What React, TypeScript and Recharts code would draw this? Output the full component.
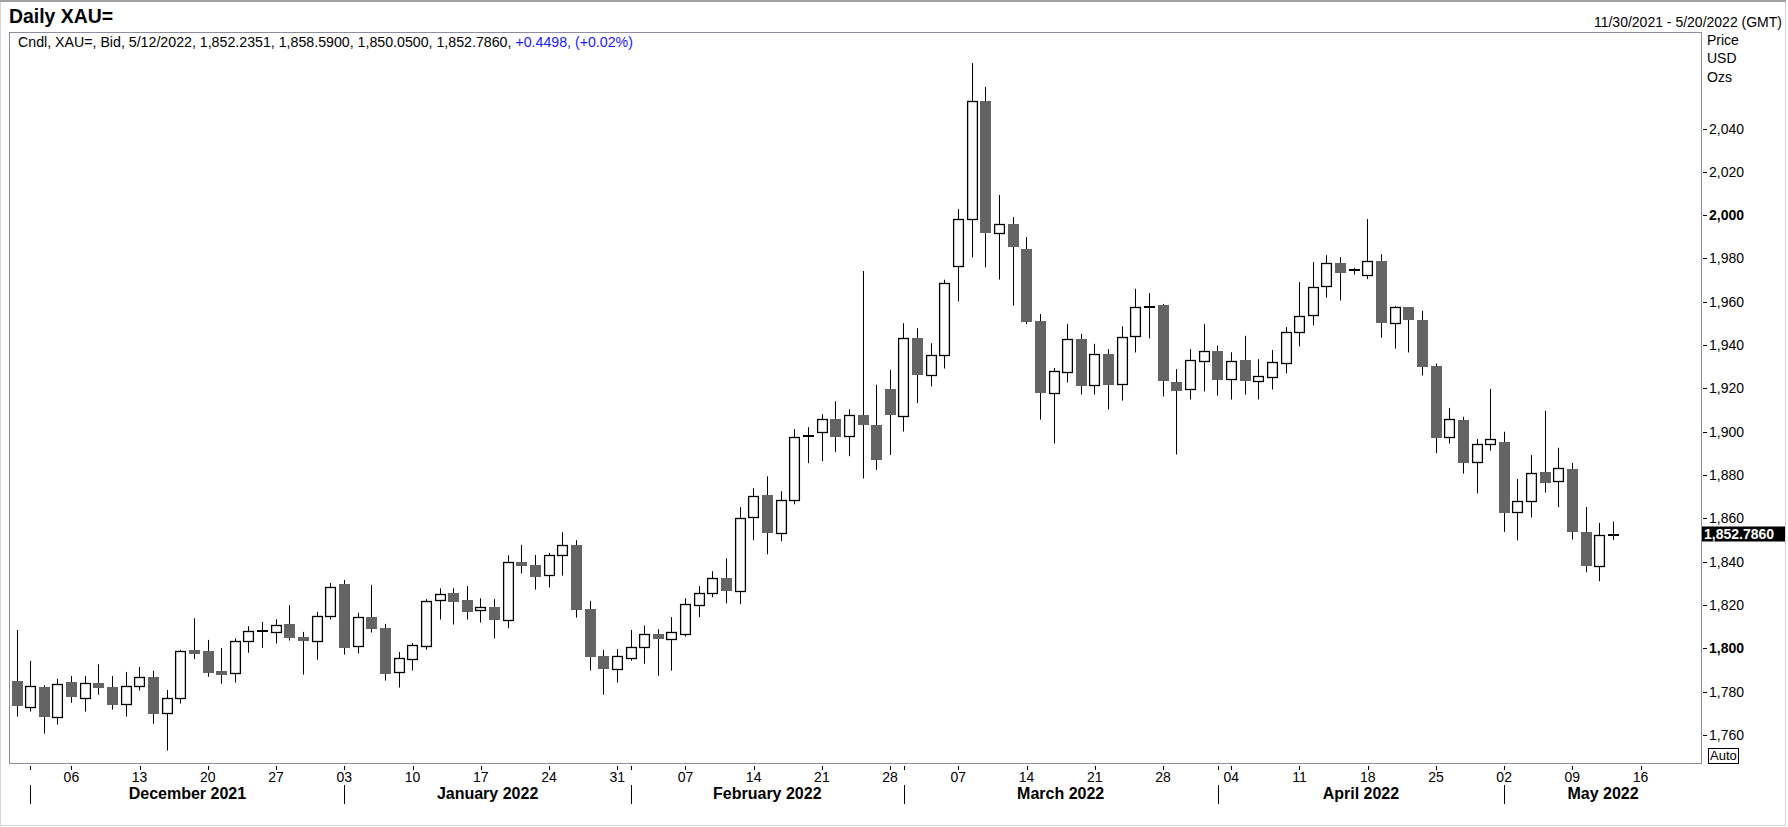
import { Bar, ComposedChart, ReferenceLine, XAxis, YAxis } from "recharts";

// trading days shown on the axis (Nov 30 2021 .. May 20 2022)
const dates = [
  "2021-11-30",
  "2021-12-01", "2021-12-02", "2021-12-03",
  "2021-12-06", "2021-12-07", "2021-12-08", "2021-12-09", "2021-12-10",
  "2021-12-13", "2021-12-14", "2021-12-15", "2021-12-16", "2021-12-17",
  "2021-12-20", "2021-12-21", "2021-12-22", "2021-12-23", "2021-12-24",
  "2021-12-27", "2021-12-28", "2021-12-29", "2021-12-30", "2021-12-31",
  "2022-01-03", "2022-01-04", "2022-01-05", "2022-01-06", "2022-01-07",
  "2022-01-10", "2022-01-11", "2022-01-12", "2022-01-13", "2022-01-14",
  "2022-01-17", "2022-01-18", "2022-01-19", "2022-01-20", "2022-01-21",
  "2022-01-24", "2022-01-25", "2022-01-26", "2022-01-27", "2022-01-28",
  "2022-01-31", "2022-02-01", "2022-02-02", "2022-02-03", "2022-02-04",
  "2022-02-07", "2022-02-08", "2022-02-09", "2022-02-10", "2022-02-11",
  "2022-02-14", "2022-02-15", "2022-02-16", "2022-02-17", "2022-02-18",
  "2022-02-21", "2022-02-22", "2022-02-23", "2022-02-24", "2022-02-25",
  "2022-02-28", "2022-03-01", "2022-03-02", "2022-03-03", "2022-03-04",
  "2022-03-07", "2022-03-08", "2022-03-09", "2022-03-10", "2022-03-11",
  "2022-03-14", "2022-03-15", "2022-03-16", "2022-03-17", "2022-03-18",
  "2022-03-21", "2022-03-22", "2022-03-23", "2022-03-24", "2022-03-25",
  "2022-03-28", "2022-03-29", "2022-03-30", "2022-03-31", "2022-04-01",
  "2022-04-04", "2022-04-05", "2022-04-06", "2022-04-07", "2022-04-08",
  "2022-04-11", "2022-04-12", "2022-04-13", "2022-04-14", "2022-04-15",
  "2022-04-18", "2022-04-19", "2022-04-20", "2022-04-21", "2022-04-22",
  "2022-04-25", "2022-04-26", "2022-04-27", "2022-04-28", "2022-04-29",
  "2022-05-02", "2022-05-03", "2022-05-04", "2022-05-05", "2022-05-06",
  "2022-05-09", "2022-05-10", "2022-05-11", "2022-05-12", "2022-05-13",
  "2022-05-16", "2022-05-17", "2022-05-18", "2022-05-19", "2022-05-20",
];

const opens = [
  1784.9, 1772.8, 1782.2, 1768.2, 1784.5, 1776.9, 1784.0, 1782.2, 1774.2, 1782.5,
  1786.8, 1770.0, 1776.9, 1799.3, 1798.8, 1789.6, 1788.5, 1803.3, 1808.0, 1807.4,
  1811.3, 1805.3, 1803.3, 1814.8, 1829.7, 1800.9, 1814.4, 1809.4, 1788.9, 1794.9,
  1800.9, 1822.2, 1825.6, 1822.4, 1817.6, 1819.1, 1813.0, 1839.9, 1838.5, 1833.8,
  1843.0, 1847.8, 1818.0, 1796.5, 1790.3, 1795.4, 1800.5, 1806.5, 1804.2, 1806.5,
  1819.9, 1825.4, 1832.4, 1826.4, 1860.5, 1870.7, 1853.1, 1868.4, 1897.8, 1899.8,
  1905.8, 1897.9, 1907.8, 1903.2, 1919.8, 1907.5, 1943.2, 1926.1, 1935.4, 1976.3,
  1998.2, 2052.8, 1991.7, 1996.0, 1984.5, 1951.2, 1917.8, 1927.5, 1942.8, 1921.5,
  1936.0, 1922.0, 1944.3, 1957.5, 1958.6, 1922.9, 1919.6, 1932.6, 1937.4, 1924.3,
  1933.2, 1923.4, 1925.2, 1931.7, 1946.0, 1953.8, 1967.2, 1977.8, 1974.4, 1972.3,
  1978.8, 1950.1, 1957.5, 1951.7, 1930.4, 1897.5, 1905.5, 1886.0, 1894.3, 1895.3,
  1862.8, 1867.9, 1881.5, 1877.2, 1882.9, 1853.8, 1837.8, 1852.2351,
];

const highs = [
  1808.5, 1794.2, 1782.9, 1785.9, 1787.2, 1787.2, 1792.6, 1787.2, 1789.1, 1791.4,
  1789.6, 1780.8, 1799.3, 1813.9, 1803.9, 1800.2, 1804.6, 1810.2, 1812.2, 1813.4,
  1820.0, 1807.6, 1816.8, 1830.2, 1831.6, 1816.4, 1829.3, 1811.3, 1798.3, 1802.5,
  1822.7, 1827.7, 1827.7, 1828.8, 1823.1, 1822.7, 1843.0, 1847.8, 1843.1, 1844.1,
  1853.6, 1849.9, 1821.9, 1799.3, 1799.7, 1808.5, 1810.6, 1808.8, 1814.4, 1823.1,
  1828.8, 1835.6, 1841.6, 1865.2, 1873.9, 1879.4, 1872.5, 1901.2, 1902.1, 1908.1,
  1914.1, 1910.4, 1974.2, 1921.7, 1928.6, 1950.1, 1947.8, 1940.9, 1970.2, 2002.8,
  2070.2, 2059.2, 2009.3, 1999.1, 1989.9, 1954.3, 1929.4, 1949.8, 1945.2, 1940.6,
  1938.1, 1948.6, 1966.0, 1964.0, 1959.0, 1928.9, 1938.1, 1949.7, 1939.7, 1936.7,
  1944.3, 1933.5, 1937.7, 1948.3, 1969.1, 1978.3, 1981.5, 1980.6, 1975.7, 1998.2,
  1982.0, 1958.0, 1957.6, 1955.8, 1931.5, 1911.0, 1906.9, 1896.6, 1919.8, 1900.0,
  1878.2, 1889.2, 1909.7, 1892.6, 1885.6, 1865.3, 1857.9, 1858.59,
];

const lows = [
  1768.5, 1770.8, 1760.6, 1764.8, 1774.9, 1770.8, 1778.6, 1771.7, 1768.5, 1780.5,
  1765.2, 1752.8, 1774.5, 1795.0, 1786.9, 1783.7, 1784.2, 1798.0, 1800.2, 1802.2,
  1803.6, 1787.9, 1794.8, 1813.3, 1797.1, 1797.6, 1807.3, 1785.1, 1781.9, 1789.7,
  1799.4, 1813.3, 1811.0, 1813.3, 1811.9, 1804.5, 1809.3, 1834.5, 1827.1, 1828.1,
  1833.6, 1814.2, 1789.7, 1778.6, 1784.2, 1794.3, 1792.9, 1787.4, 1789.7, 1805.5,
  1814.4, 1823.6, 1820.8, 1820.4, 1849.9, 1843.4, 1849.4, 1866.5, 1885.5, 1886.4,
  1890.6, 1888.7, 1878.4, 1882.4, 1889.3, 1900.1, 1913.2, 1920.9, 1929.2, 1960.2,
  1980.5, 1975.9, 1970.3, 1958.3, 1949.7, 1905.6, 1894.6, 1922.7, 1917.2, 1917.2,
  1910.3, 1914.4, 1936.6, 1943.1, 1916.3, 1889.5, 1914.9, 1918.6, 1916.7, 1914.9,
  1917.2, 1914.9, 1919.5, 1926.9, 1939.4, 1949.1, 1962.0, 1960.6, 1972.6, 1970.5,
  1943.5, 1938.4, 1936.6, 1926.0, 1890.1, 1894.6, 1880.7, 1871.5, 1891.3, 1853.8,
  1849.8, 1860.4, 1871.9, 1865.2, 1850.2, 1835.1, 1831.0, 1850.05,
];

const closes = [
  1773.6, 1782.5, 1768.5, 1783.4, 1777.7, 1783.9, 1781.9, 1774.0, 1782.5, 1786.6,
  1769.9, 1776.9, 1798.6, 1797.6, 1788.8, 1787.9, 1803.3, 1807.9, 1808.1, 1810.6,
  1805.0, 1803.6, 1814.8, 1828.2, 1800.3, 1814.4, 1809.1, 1788.3, 1795.4, 1801.4,
  1821.7, 1825.0, 1821.6, 1817.0, 1819.0, 1813.3, 1839.8, 1838.2, 1833.0, 1843.0,
  1847.6, 1817.9, 1796.2, 1790.6, 1796.3, 1800.5, 1806.5, 1804.2, 1807.4, 1820.4,
  1825.4, 1832.4, 1826.4, 1860.1, 1870.2, 1853.1, 1868.4, 1897.5, 1898.0, 1905.8,
  1897.8, 1907.6, 1903.0, 1887.0, 1907.8, 1943.2, 1926.0, 1935.4, 1968.6, 1998.2,
  2052.7, 1991.6, 1995.9, 1985.1, 1950.9, 1917.7, 1928.0, 1942.8, 1920.9, 1935.8,
  1921.4, 1943.7, 1957.5, 1957.7, 1923.2, 1919.0, 1933.0, 1937.2, 1924.1, 1932.6,
  1923.6, 1925.7, 1932.1, 1946.0, 1953.4, 1966.8, 1977.8, 1973.5, 1974.6, 1978.8,
  1950.0, 1957.5, 1951.4, 1929.7, 1897.3, 1905.8, 1885.8, 1894.3, 1896.6, 1862.7,
  1867.9, 1880.9, 1876.5, 1883.2, 1853.9, 1837.8, 1852.2, 1852.786,
];

const weekTicks = [
  "2021-12-06", "2021-12-13", "2021-12-20", "2021-12-27",
  "2022-01-03", "2022-01-10", "2022-01-17", "2022-01-24", "2022-01-31",
  "2022-02-07", "2022-02-14", "2022-02-21", "2022-02-28",
  "2022-03-07", "2022-03-14", "2022-03-21", "2022-03-28",
  "2022-04-04", "2022-04-11", "2022-04-18", "2022-04-25",
  "2022-05-02", "2022-05-09", "2022-05-16",
];
const monthStarts = ["2021-12-01", "2022-01-03", "2022-02-01", "2022-03-01", "2022-04-01", "2022-05-02"];
const monthLabels = ["December 2021", "January 2022", "February 2022", "March 2022", "April 2022", "May 2022"];
const priceTicks = [1760, 1780, 1800, 1820, 1840, 1860, 1880, 1900, 1920, 1940, 1960, 1980, 2000, 2020, 2040];
const boldTicks = [1800, 2000];

const lastChange = "+0.4498";
const lastChangePct = "(+0.02%)";

const FONT = "'Liberation Sans', Arial, sans-serif";
const CHART_W = 1788;
const CHART_H = 827;
const MARGIN = { top: 33, right: 2, bottom: 3, left: 10 };
const Y_AXIS_W = 84;
const X_AXIS_H = 60;
const PLOT_RIGHT = CHART_W - MARGIN.right - Y_AXIS_W;
const PLOT_W = PLOT_RIGHT - MARGIN.left;
const AXIS_Y = CHART_H - MARGIN.bottom - X_AXIS_H;
const BAND = PLOT_W / dates.length;

const rows = dates.map((date, i) => ({
  date,
  open: opens[i],
  high: highs[i],
  low: lows[i],
  close: closes[i],
  range: i < opens.length ? [lows[i], highs[i]] : null,
}));

const xTicks = dates.filter((d) => weekTicks.includes(d) || monthStarts.includes(d));

const fmt = (v: number, digits = 0) =>
  v.toLocaleString("en-US", { minimumFractionDigits: digits, maximumFractionDigits: digits });

function Candle(props: any) {
  const { x, y, width, height, payload } = props;
  if (!payload || payload.open == null || height == null) return null;
  const { open, high, low, close } = payload;
  const top = Math.min(y, y + height);
  const span = Math.abs(height);
  const yOf = (v: number) => top + ((high - v) / (high - low)) * span;
  const cx = Math.round(x + width / 2) + 0.5;
  const w = 11;
  const left = cx - w / 2;
  const yo = yOf(open);
  const yc = yOf(close);
  const bTop = Math.min(yo, yc);
  const bBot = Math.max(yo, yc);
  const wick = <line x1={cx} x2={cx} y1={top} y2={top + span} stroke="#000" strokeWidth={1} />;
  if (bBot - bTop < 1.5) {
    const ym = Math.round((bTop + bBot) / 2);
    return (
      <g>
        {wick}
        <rect x={left} y={ym - 1} width={w} height={2} fill="#000" />
      </g>
    );
  }
  const t = Math.round(bTop);
  const h = Math.round(bBot) - t;
  if (close < open) {
    return (
      <g>
        {wick}
        <rect x={left} y={t} width={w} height={h} fill="#646464" />
      </g>
    );
  }
  return (
    <g>
      {wick}
      <rect x={left + 0.6} y={t + 0.5} width={w - 1.2} height={h} fill="#fff" stroke="#000" strokeWidth={1.3} />
    </g>
  );
}

function DateTick(props: any) {
  const { x, payload } = props;
  const value: string = payload.value;
  const tx = Math.round(x) + 0.5;
  const mIdx = monthStarts.indexOf(value);
  let month = null;
  if (mIdx >= 0) {
    const s = dates.indexOf(value);
    const n = mIdx + 1 < monthStarts.length ? dates.indexOf(monthStarts[mIdx + 1]) : dates.length - 0.5;
    const mx = x + ((n - s) / 2) * BAND;
    month = (
      <g>
        <line x1={tx} x2={tx} y1={AXIS_Y + 21} y2={AXIS_Y + 40} stroke="#000" />
        <text x={mx} y={AXIS_Y + 35} textAnchor="middle" fontFamily={FONT} fontSize={16} fontWeight="bold" fill="#000">
          {monthLabels[mIdx]}
        </text>
      </g>
    );
  }
  return (
    <g>
      <line x1={tx} x2={tx} y1={AXIS_Y + 2} y2={AXIS_Y + 6} stroke="#000" />
      {weekTicks.includes(value) && (
        <text x={x} y={AXIS_Y + 18} textAnchor="middle" fontFamily={FONT} fontSize={14} fill="#000">
          {value.slice(8)}
        </text>
      )}
      {month}
    </g>
  );
}

function PriceTick(props: any) {
  const { y, payload } = props;
  const v: number = payload.value;
  const ty = Math.round(y) + 0.5;
  return (
    <g>
      <line x1={PLOT_RIGHT + 1} x2={PLOT_RIGHT + 5} y1={ty} y2={ty} stroke="#000" />
      <text
        x={PLOT_RIGHT + 7}
        y={y + 5}
        fontFamily={FONT}
        fontSize={14}
        fontWeight={boldTicks.includes(v) ? "bold" : "normal"}
        fill="#000"
      >
        {fmt(v)}
      </text>
    </g>
  );
}

function LastPriceLabel(props: any) {
  const vb = props.viewBox || {};
  const cy = vb.y ?? 0;
  return (
    <g>
      <rect x={PLOT_RIGHT} y={cy - 7.5} width={83} height={15} fill="#000" />
      <text x={PLOT_RIGHT + 2} y={cy + 5} fontFamily={FONT} fontSize={14} fontWeight="bold" fill="#fff">
        {fmt(closes[closes.length - 1], 4)}
      </text>
    </g>
  );
}

export default function App() {
  const n = opens.length - 1;
  const lastDate = dates[n];
  const [yy, mm, dd] = lastDate.split("-");
  const header = `Cndl, XAU=, Bid, ${Number(mm)}/${Number(dd)}/${yy}, ${fmt(opens[n], 4)}, ${fmt(highs[n], 4)}, ${fmt(lows[n], 4)}, ${fmt(closes[n], 4)},`;
  return (
    <div style={{ position: "absolute", left: 0, top: 0, width: CHART_W, height: CHART_H, background: "#fff", fontFamily: FONT }}>
      <ComposedChart width={CHART_W} height={CHART_H} data={rows} margin={MARGIN}>
        <XAxis
          dataKey="date"
          type="category"
          ticks={xTicks}
          interval={0}
          height={X_AXIS_H}
          axisLine={false}
          tickLine={false}
          tick={(p: any) => <DateTick {...p} />}
        />
        <YAxis
          orientation="right"
          width={Y_AXIS_W}
          domain={[1746.6, 2084.1]}
          allowDataOverflow
          ticks={priceTicks}
          interval={0}
          axisLine={false}
          tickLine={false}
          tick={(p: any) => <PriceTick {...p} />}
        />
        <Bar
          dataKey="range"
          barSize={11}
          isAnimationActive={false}
          shape={(p: any) => <Candle {...p} />}
        />
        <ReferenceLine
          y={closes[n]}
          stroke="none"
          ifOverflow="visible"
          label={(p: any) => <LastPriceLabel {...p} />}
        />
      </ComposedChart>
      <svg
        width={CHART_W}
        height={CHART_H}
        style={{ position: "absolute", left: 0, top: 0, pointerEvents: "none" }}
      >
        <rect x={0.5} y={0.5} width={CHART_W - 3} height={CHART_H - 2} fill="none" stroke="#d4d4d4" />
        <line x1={0} x2={CHART_W - 2} y1={1} y2={1} stroke="#a0a0a0" strokeWidth={2} />
        <rect x={9.5} y={32.5} width={PLOT_W} height={AXIS_Y - 33} fill="none" stroke="#8e8ea0" />
        <text x={9} y={23} fontFamily={FONT} fontSize={19.4} fontWeight="bold" fill="#000">
          Daily XAU=
        </text>
        <text x={1782} y={27} textAnchor="end" fontFamily={FONT} fontSize={14} fill="#000">
          11/30/2021 - 5/20/2022 (GMT)
        </text>
        <text x={18} y={47} fontFamily={FONT} fontSize={14.2} fill="#000">
          {header}{" "}
          <tspan fill="#1a1aff">
            {lastChange}, {lastChangePct}
          </tspan>
        </text>
        <text x={1707} y={45} fontFamily={FONT} fontSize={14} fill="#000">Price</text>
        <text x={1707} y={63} fontFamily={FONT} fontSize={14} fill="#000">USD</text>
        <text x={1707} y={82} fontFamily={FONT} fontSize={14} fill="#000">Ozs</text>
        <rect x={1708.5} y={748.5} width={30} height={15} fill="#fff" stroke="#000" />
        <text x={1710} y={760} fontFamily={FONT} fontSize={13} fill="#000">Auto</text>
      </svg>
    </div>
  );
}
